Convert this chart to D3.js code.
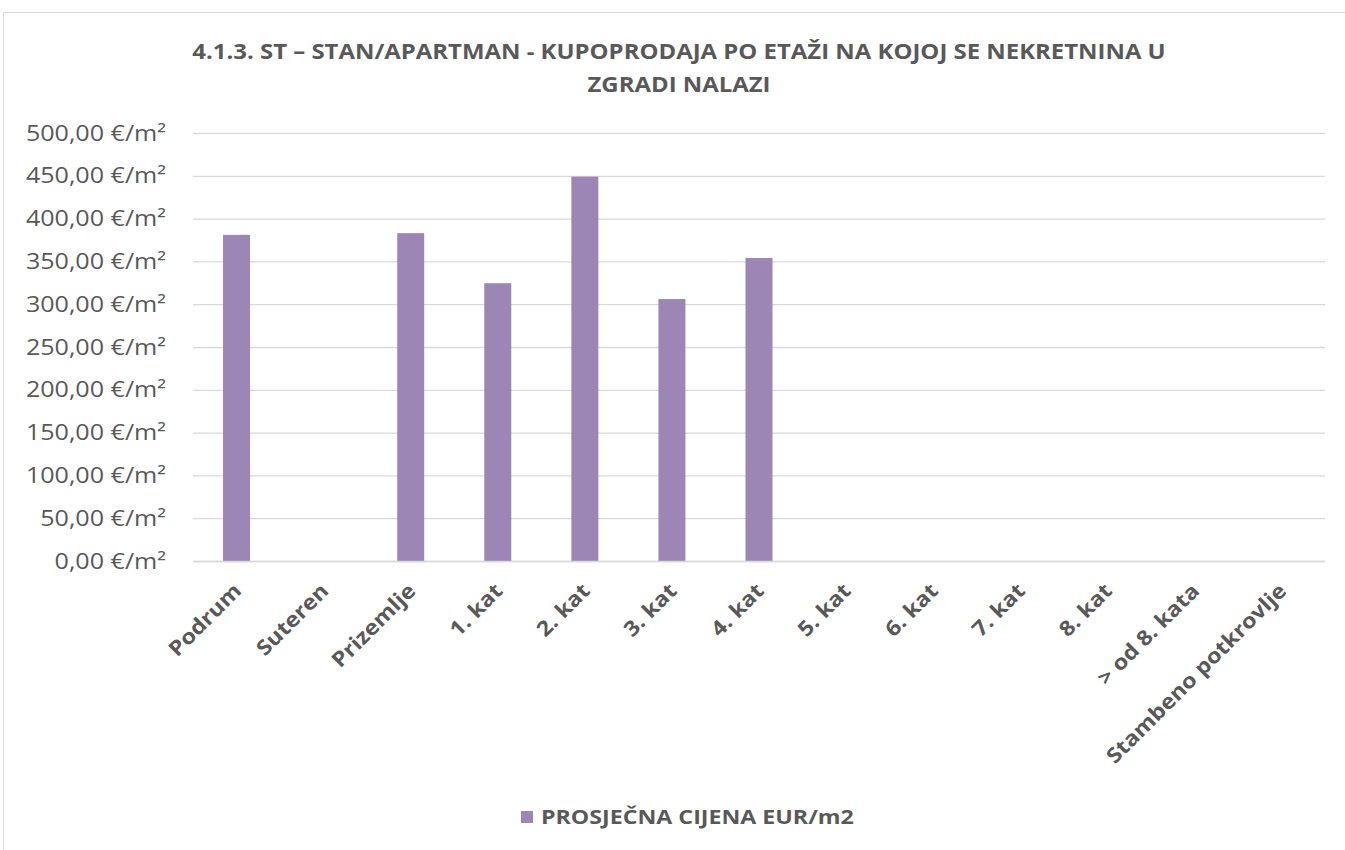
<!DOCTYPE html>
<html>
<head>
<meta charset="utf-8">
<script src="https://cdn.jsdelivr.net/npm/d3@7"></script>
<style>
  body { margin: 0; background: #fff; }
  svg { display: block; font-family: "Open Sans", sans-serif; }
</style>
</head>
<body>
<svg id="chart" width="1345" height="850"></svg>
<script>
// data
const floors = ["Podrum", "Suteren", "Prizemlje", "1. kat", "2. kat", "3. kat", "4. kat",
  "5. kat", "6. kat", "7. kat", "8. kat", "> od 8. kata", "Stambeno potkrovlje"];
const prices = [381, null, 383, 324.5, 449, 306, 354, null, null, null, null, null, null];
const yTicks = [0, 50, 100, 150, 200, 250, 300, 350, 400, 450, 500];
const titleLines = ["4.1.3. ST – STAN/APARTMAN - KUPOPRODAJA PO ETAŽI NA KOJOJ SE NEKRETNINA U", "ZGRADI NALAZI"];
const seriesName = "PROSJEČNA CIJENA EUR/m2";

const svg = d3.select("#chart");
const textColor = "#595959";
const barColor = "#9b86b6";
const stretch = 1.14; // the original font is wider than Open Sans

// chart border
svg.append("rect")
  .attr("x", 3.5).attr("y", 12.5)
  .attr("width", 1360).attr("height", 860)
  .attr("fill", "none").attr("stroke", "#d9d9d9");

const margin = { left: 193, right: 1325, top: 133, bottom: 561 };

const x = d3.scaleBand()
  .domain(floors)
  .range([margin.left, margin.right])
  .paddingInner(0.69).paddingOuter(0.345);

const y = d3.scaleLinear()
  .domain([0, 500])
  .range([margin.bottom, margin.top]);

// title
svg.append("g").selectAll("text")
  .data(titleLines)
  .join("text")
  .attr("transform", (d, i) => `translate(679,${59 + i * 33}) scale(${stretch},1)`)
  .attr("text-anchor", "middle")
  .attr("font-size", 21)
  .attr("font-weight", "bold")
  .attr("fill", textColor)
  .text(d => d);

// gridlines + y labels
const yAxis = d3.axisLeft(y)
  .tickValues(yTicks)
  .tickSize(-(margin.right - margin.left))
  .tickPadding(0)
  .tickFormat(d => d3.format(".2f")(d).replace(".", ",") + " €/m²");

const gy = svg.append("g")
  .attr("transform", `translate(${margin.left},0)`)
  .call(yAxis);
gy.select(".domain").remove();
gy.selectAll(".tick line").attr("stroke", "#d9d9d9").attr("stroke-width", 1.3);
gy.selectAll(".tick text")
  .attr("x", 0)
  .attr("transform", `translate(-27,0) scale(${stretch},1)`)
  .attr("fill", textColor)
  .attr("font-size", 22)
  .attr("font-family", "'Open Sans', sans-serif");

// bars
svg.append("g").selectAll("rect")
  .data(floors.map((f, i) => ({ f, v: prices[i] })).filter(d => d.v != null))
  .join("rect")
  .attr("x", d => x(d.f))
  .attr("y", d => y(d.v))
  .attr("width", x.bandwidth())
  .attr("height", d => y(0) - y(d.v))
  .attr("fill", barColor);

// x labels
const xAxis = d3.axisBottom(x).tickSize(0).tickPadding(0);
const gx = svg.append("g")
  .attr("transform", `translate(0,${margin.bottom})`)
  .call(xAxis);
gx.select(".domain").attr("stroke", "#d9d9d9").attr("stroke-width", 1.3)
  .attr("d", `M${margin.left},0.5H${margin.right}`);
gx.selectAll(".tick text")
  .attr("fill", textColor)
  .attr("font-size", 21)
  .attr("font-weight", "bold")
  .attr("font-family", "'Open Sans', sans-serif")
  .attr("text-anchor", "end")
  .attr("transform", `translate(1,26) rotate(-45) scale(1.11,1)`)
  .attr("dy", "0.35em")
  .attr("y", 0);

// legend
const lg = svg.append("g").attr("transform", "translate(521,811)");
lg.append("rect").attr("width", 12).attr("height", 12).attr("fill", barColor);
lg.append("text")
  .attr("transform", `translate(20,6) scale(1.16,1)`)
  .attr("dy", "0.35em")
  .attr("font-size", 20).attr("font-weight", "bold")
  .attr("fill", textColor)
  .text(seriesName);
</script>
</body>
</html>
